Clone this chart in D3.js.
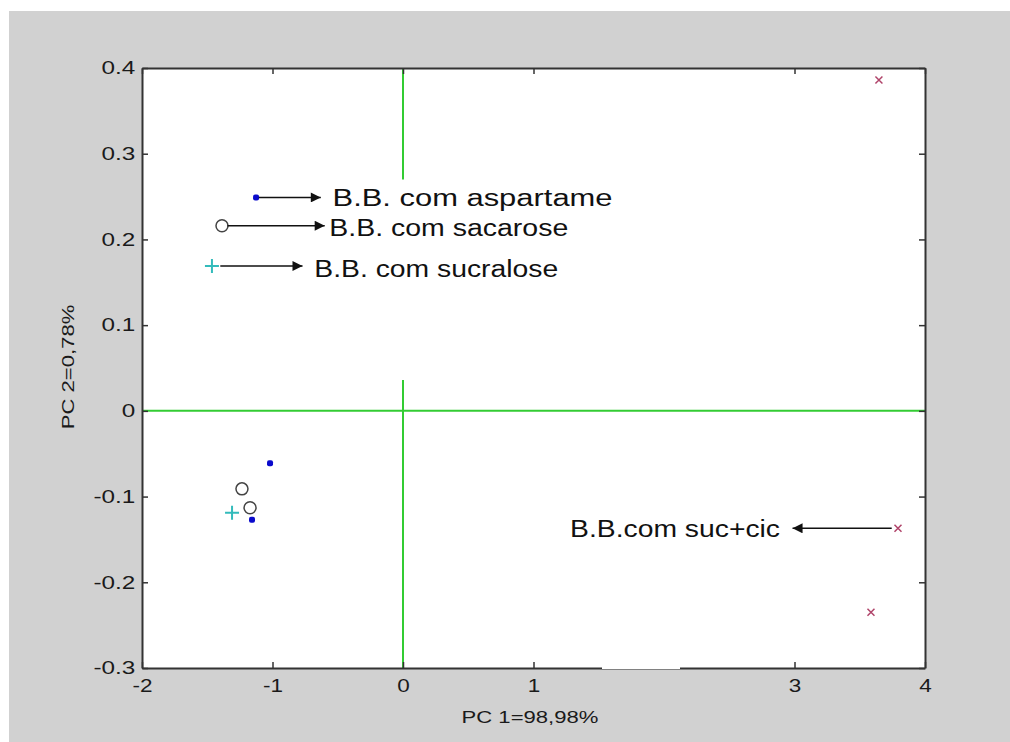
<!DOCTYPE html>
<html>
<head>
<meta charset="utf-8">
<script src="https://cdn.jsdelivr.net/npm/d3@7"></script>
<style>
  html, body { margin: 0; padding: 0; background: #ffffff; }
  svg { display: block; }
</style>
</head>
<body>
<svg id="chart" width="1010" height="742"></svg>
<script>
// ---- data ----
const xTicks = [-2, -1, 0, 1, 3, 4];
const yTicks = [-0.3, -0.2, -0.1, 0, 0.1, 0.2, 0.3, 0.4];
const xDomain = [-2, 4];
const yDomain = [-0.3, 0.4];

const aspartame = [[-1.126, 0.249], [-1.019, -0.061], [-1.157, -0.127]];
const sacarose  = [[-1.387, 0.216], [-1.234, -0.091], [-1.172, -0.113]];
const sucralose = [[-1.464, 0.169], [-1.310, -0.119]];
const sucCic    = [[3.647, 0.386], [3.793, -0.137], [3.586, -0.235]];

const labelTexts = ["B.B. com aspartame", "B.B. com sacarose", "B.B. com sucralose", "B.B.com suc+cic"];
const xLabel = "PC 1=98,98%";
const yLabel = "PC 2=0,78%";

// ---- layout ----
const svg = d3.select("#chart");
const L = 142, R = 925, T = 68, B = 668;
const x = d3.scaleLinear().domain(xDomain).range([L, R]);
const y = d3.scaleLinear().domain(yDomain).range([B, T]);
const FONT = "Liberation Sans, Arial, sans-serif";

// figure background
svg.append("rect").attr("x", 9).attr("y", 11).attr("width", 1001).attr("height", 731).attr("fill", "#d1d1d1");
// plot area
svg.append("rect").attr("x", L).attr("y", T).attr("width", R - L).attr("height", B - T).attr("fill", "#ffffff");

// green zero lines
const green = "#33cc33";
svg.append("line").attr("x1", x(-2)).attr("x2", x(4)).attr("y1", y(0)).attr("y2", y(0))
  .attr("stroke", green).attr("stroke-width", 2);
svg.append("line").attr("x1", x(0)).attr("x2", x(0)).attr("y1", y(0.4)).attr("y2", y(0.27))
  .attr("stroke", green).attr("stroke-width", 2);
svg.append("line").attr("x1", x(0)).attr("x2", x(0)).attr("y1", y(0.036)).attr("y2", y(-0.3))
  .attr("stroke", green).attr("stroke-width", 2);

// axes (MATLAB style: inward ticks on all four sides)
const axisColor = "#333333";
const tickLen = 6;
function styleAxis(g) {
  g.select(".domain").attr("stroke", axisColor).attr("stroke-width", 2);
  g.selectAll(".tick line").attr("stroke", axisColor).attr("stroke-width", 1.5);
  g.selectAll("text").attr("fill", "#1a1a1a").attr("font-family", FONT).attr("font-size", 18);
}
const hyphen = s => s.replace("\u2212", "-");
const gx = svg.append("g").attr("transform", `translate(0,${B})`)
  .call(d3.axisBottom(x).tickValues(xTicks).tickSize(-tickLen).tickSizeOuter(0).tickPadding(11)
    .tickFormat(d => hyphen(d3.format("d")(d))));
styleAxis(gx);
gx.selectAll("text").attr("transform", "scale(1.25,1)");

const gx2 = svg.append("g").attr("transform", `translate(0,${T})`)
  .call(d3.axisTop(x).tickValues(xTicks).tickSize(-tickLen).tickSizeOuter(0).tickFormat(""));
styleAxis(gx2);

const gy = svg.append("g").attr("transform", `translate(${L},0)`)
  .call(d3.axisLeft(y).tickValues(yTicks).tickSize(-tickLen).tickSizeOuter(0)
    .tickFormat(d => d === 0 ? "0" : hyphen(d3.format(".1f")(d))));
styleAxis(gy);
gy.selectAll("text").attr("transform", "scale(1.35,1)").attr("x", -5);

const gy2 = svg.append("g").attr("transform", `translate(${R},0)`)
  .call(d3.axisRight(y).tickValues(yTicks).tickSize(-tickLen).tickSizeOuter(0).tickFormat(""));
styleAxis(gy2);

// white patch hiding part of the bottom axis (as in the reference)
svg.append("rect").attr("x", 602).attr("y", B - 8).attr("width", 78).attr("height", 9).attr("fill", "#ffffff");

// axis labels
svg.append("text").attr("transform", `translate(530,723) scale(1.3,1)`)
  .attr("text-anchor", "middle").attr("font-family", FONT).attr("font-size", 17)
  .attr("fill", "#1a1a1a").text(xLabel);
svg.append("text").attr("transform", `translate(74,367) rotate(-90) scale(1.3,1)`)
  .attr("text-anchor", "middle").attr("font-family", FONT).attr("font-size", 17)
  .attr("fill", "#1a1a1a").text(yLabel);

// markers
const plot = svg.append("g");
plot.selectAll(".asp").data(aspartame).enter().append("rect").attr("class", "asp")
  .attr("x", d => x(d[0]) - 3).attr("y", d => y(d[1]) - 3).attr("width", 6).attr("height", 6).attr("rx", 2)
  .attr("fill", "#0a0acc");
plot.selectAll(".sac").data(sacarose).enter().append("circle").attr("class", "sac")
  .attr("cx", d => x(d[0])).attr("cy", d => y(d[1])).attr("r", 6)
  .attr("fill", "none").attr("stroke", "#444444").attr("stroke-width", 1.5);
plot.selectAll(".suc").data(sucralose).enter().append("path").attr("class", "suc")
  .attr("d", d => { const cx = x(d[0]), cy = y(d[1]), s = 7; return `M${cx-s},${cy}H${cx+s}M${cx},${cy-s}V${cy+s}`; })
  .attr("stroke", "#33bbbb").attr("stroke-width", 2);
plot.selectAll(".cic").data(sucCic).enter().append("path").attr("class", "cic")
  .attr("d", d => { const cx = x(d[0]), cy = y(d[1]), s = 3.5; return `M${cx-s},${cy-s}L${cx+s},${cy+s}M${cx-s},${cy+s}L${cx+s},${cy-s}`; })
  .attr("stroke", "#b0446a").attr("stroke-width", 1.5);

// arrow marker
svg.append("defs").append("marker").attr("id", "ah").attr("viewBox", "0 0 10 10")
  .attr("refX", 10).attr("refY", 5).attr("markerWidth", 14).attr("markerHeight", 10)
  .attr("markerUnits", "userSpaceOnUse").attr("orient", "auto")
  .append("path").attr("d", "M0,0L10,5L0,10Z").attr("fill", "#111111");

function arrow(x1, y1, x2, y2) {
  svg.append("line").attr("x1", x(x1)).attr("y1", y(y1)).attr("x2", x(x2)).attr("y2", y(y2))
    .attr("stroke", "#111111").attr("stroke-width", 1.5).attr("marker-end", "url(#ah)");
}
function label(txt, xv, yv, width) {
  svg.append("text").attr("x", x(xv)).attr("y", y(yv))
    .attr("font-family", FONT).attr("font-size", 23)
    .attr("fill", "#111111").attr("textLength", width).attr("lengthAdjust", "spacingAndGlyphs").text(txt);
}

arrow(-1.105, 0.249, -0.63, 0.249);
label(labelTexts[0], -0.54, 0.239, 280);
arrow(-1.345, 0.216, -0.60, 0.216);
label(labelTexts[1], -0.565, 0.2035, 239);
arrow(-1.40, 0.169, -0.77, 0.169);
label(labelTexts[2], -0.68, 0.1565, 244);
arrow(3.745, -0.137, 2.985, -0.137);
label(labelTexts[3], 1.28, -0.1475, 210);
</script>
</body>
</html>
